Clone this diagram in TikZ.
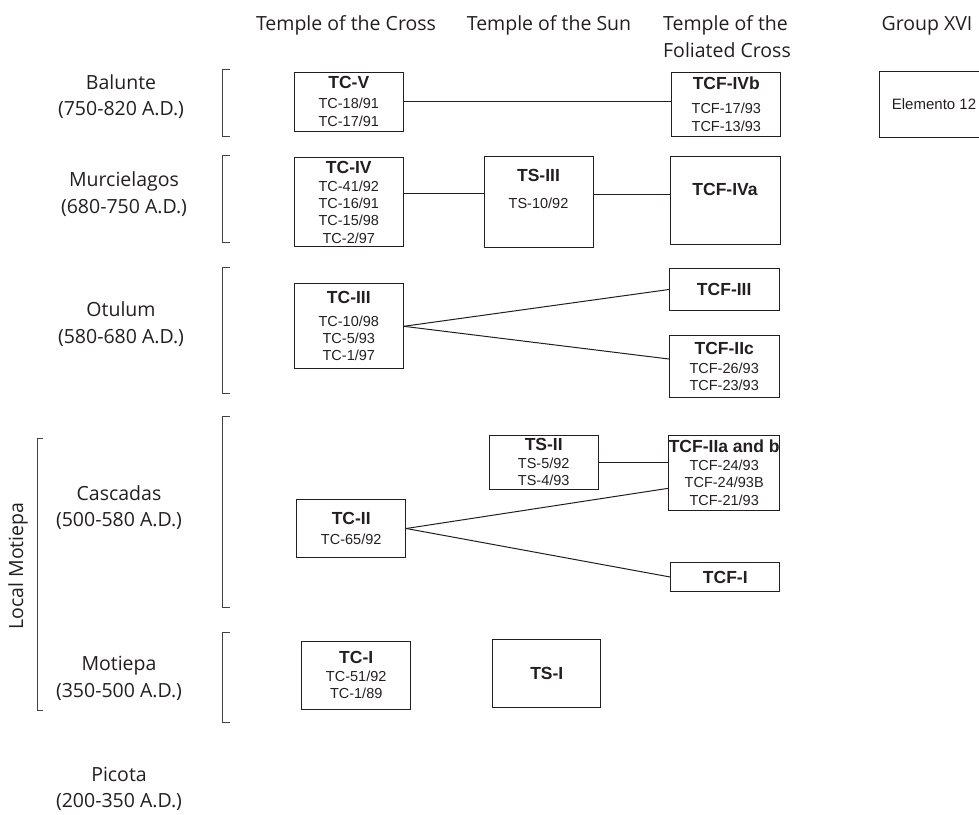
\documentclass[tikz,border=0pt]{standalone}
\usepackage{fontspec}
\setmainfont{Open Sans}
\newfontfamily\boxfont{Liberation Sans}
\usepackage{xcolor}
\definecolor{ink}{HTML}{231F20}
\newcommand{\boxtitle}[1]{{\bfseries\fontsize{17.5}{17.3}\selectfont #1}}

\begin{document}
\begin{tikzpicture}[x=1pt,y=-1pt,
  period/.style={font=\fontsize{19.5}{26.5}\selectfont, align=center, text=ink},
  box/.style={draw=ink, line width=1pt, align=center, inner sep=0pt, text=ink,
    font=\boxfont\fontsize{14.5}{17.3}\selectfont},
  link/.style={draw=ink, line width=1pt},
  brk/.style={draw=ink!85, line width=0.9pt}]
  \useasboundingbox (0,0) rectangle (979,814);

  % intestazioni delle colonne
  \node[period] (hcross) at (346,25.3) {Temple of the Cross};
  \node[period] (hsun) at (549,25.3) {Temple of the Sun};
  \node[period, align=left] (hfol) at (727,36.5) {Temple of the\\Foliated Cross};
  \node[period] (hgroup) at (927,25.3) {Group XVI};

  % fasi a sinistra
  \node[period] (balunte) at (121,96.5) {Balunte\\(750-820 A.D.)};
  \node[period] (murci) at (124,194) {Murcielagos\\(680-750 A.D.)};
  \node[period] (otulum) at (121,324.3) {Otulum\\(580-680 A.D.)};
  \node[period] (cascadas) at (119,507.7) {Cascadas\\(500-580 A.D.)};
  \node[period] (motiepa) at (119,678.5) {Motiepa\\(350-500 A.D.)};
  \node[period] (picota) at (119,789) {Picota\\(200-350 A.D.)};
  \node[period, rotate=90] (local) at (18,566) {Local Motiepa};

  % parentesi delle fasi
  \foreach \t/\b in {69/136,155/242,267/393,416/607,632/722}
    \draw[brk] (230,\t) -- (222.5,\t) -- (222.5,\b) -- (230,\b);
  \draw[brk] (43,438.3) -- (37.5,438.3) -- (37.5,710) -- (43,710);

  % Temple of the Cross
  \node[box, minimum width=109pt, minimum height=59pt] (tcv) at (348.8,101.5)
    {\boxtitle{TC-V}\\[2.7pt] TC-18/91\\ TC-17/91};
  \node[box, minimum width=109pt, minimum height=89pt] (tciv) at (348.8,202.2)
    {\boxtitle{TC-IV}\\[0.7pt] TC-41/92\\ TC-16/91\\ TC-15/98\\ TC-2/97};
  \node[box, minimum width=109pt, minimum height=84.7pt] (tciii) at (348.8,326.3)
    {\boxtitle{TC-III}\\[5pt] TC-10/98\\ TC-5/93\\ TC-1/97};
  \node[box, minimum width=109pt, minimum height=58.4pt] (tcii) at (351.2,528.5)
    {\boxtitle{TC-II}\\[2.7pt] TC-65/92};
  \node[box, minimum width=109pt, minimum height=68pt] (tci) at (356.2,675)
    {\boxtitle{TC-I}\\[1pt] TC-51/92\\ TC-1/89};

  % Temple of the Sun
  \node[box, minimum width=109pt, minimum height=91pt, text depth=26.5pt] (tsiii) at (538.5,202.2)
    {\boxtitle{TS-III}\\[9.7pt] TS-10/92};
  \node[box, minimum width=109.3pt, minimum height=54pt] (tsii) at (543.7,462)
    {\boxtitle{TS-II}\\[0.4pt] TS-5/92\\ TS-4/93};
  \node[box, minimum width=108.3pt, minimum height=67.7pt] (tsi) at (546.8,673.8)
    {\boxtitle{TS-I}};

  % Temple of the Foliated Cross
  \node[box, minimum width=109.3pt, minimum height=64pt] (tcfivb) at (726.3,104)
    {\boxtitle{TCF-IVb}\\[7.4pt] TCF-17/93\\ TCF-13/93};
  \node[box, minimum width=110pt, minimum height=87.6pt, text depth=21.5pt] (tcfiva) at (725,200.5)
    {\boxtitle{TCF-IVa}};
  \node[box, minimum width=109.7pt, minimum height=42.4pt] (tcfiii) at (724.2,289.5)
    {\boxtitle{TCF-III}};
  \node[box, minimum width=109.7pt, minimum height=61.7pt] (tcfiic) at (724.2,366.8)
    {\boxtitle{TCF-IIc}\\[1.7pt] TCF-26/93\\ TCF-23/93};
  \node[box, minimum width=109.7pt, minimum height=75pt] (tcfiia) at (724.2,472.5)
    {\boxtitle{TCF-IIa and b}\\[1pt] TCF-24/93\\ TCF-24/93B\\ TCF-21/93};
  \node[box, minimum width=109.3pt, minimum height=29.4pt] (tcfi) at (725.3,577)
    {\boxtitle{TCF-I}};

  % Group XVI
  \node[box, minimum width=110pt, minimum height=66pt, font=\boxfont\fontsize{15}{17.3}\selectfont] (elem) at (934,104)
    {Elemento 12};

  % collegamenti
  \draw[link] (tcv.east) -- (tcfivb.west |- tcv.east);
  \draw[link] ([yshift=9pt]tciv.east) -- ([yshift=9pt]tsiii.west);
  \draw[link] ([yshift=8.2pt]tsiii.east) -- ([yshift=6.5pt]tcfiva.west);
  \draw[link] (tciii.east) -- (tcfiii.west);
  \draw[link] (tciii.east) -- ([yshift=7.8pt]tcfiic.west);
  \draw[link] (tsii.east) -- (tcfiia.west |- tsii.east);
  \draw[link] (tcii.east) -- ([yshift=-15.8pt]tcfiia.west);
  \draw[link] (tcii.east) -- (tcfi.west);
\end{tikzpicture}
\end{document}
